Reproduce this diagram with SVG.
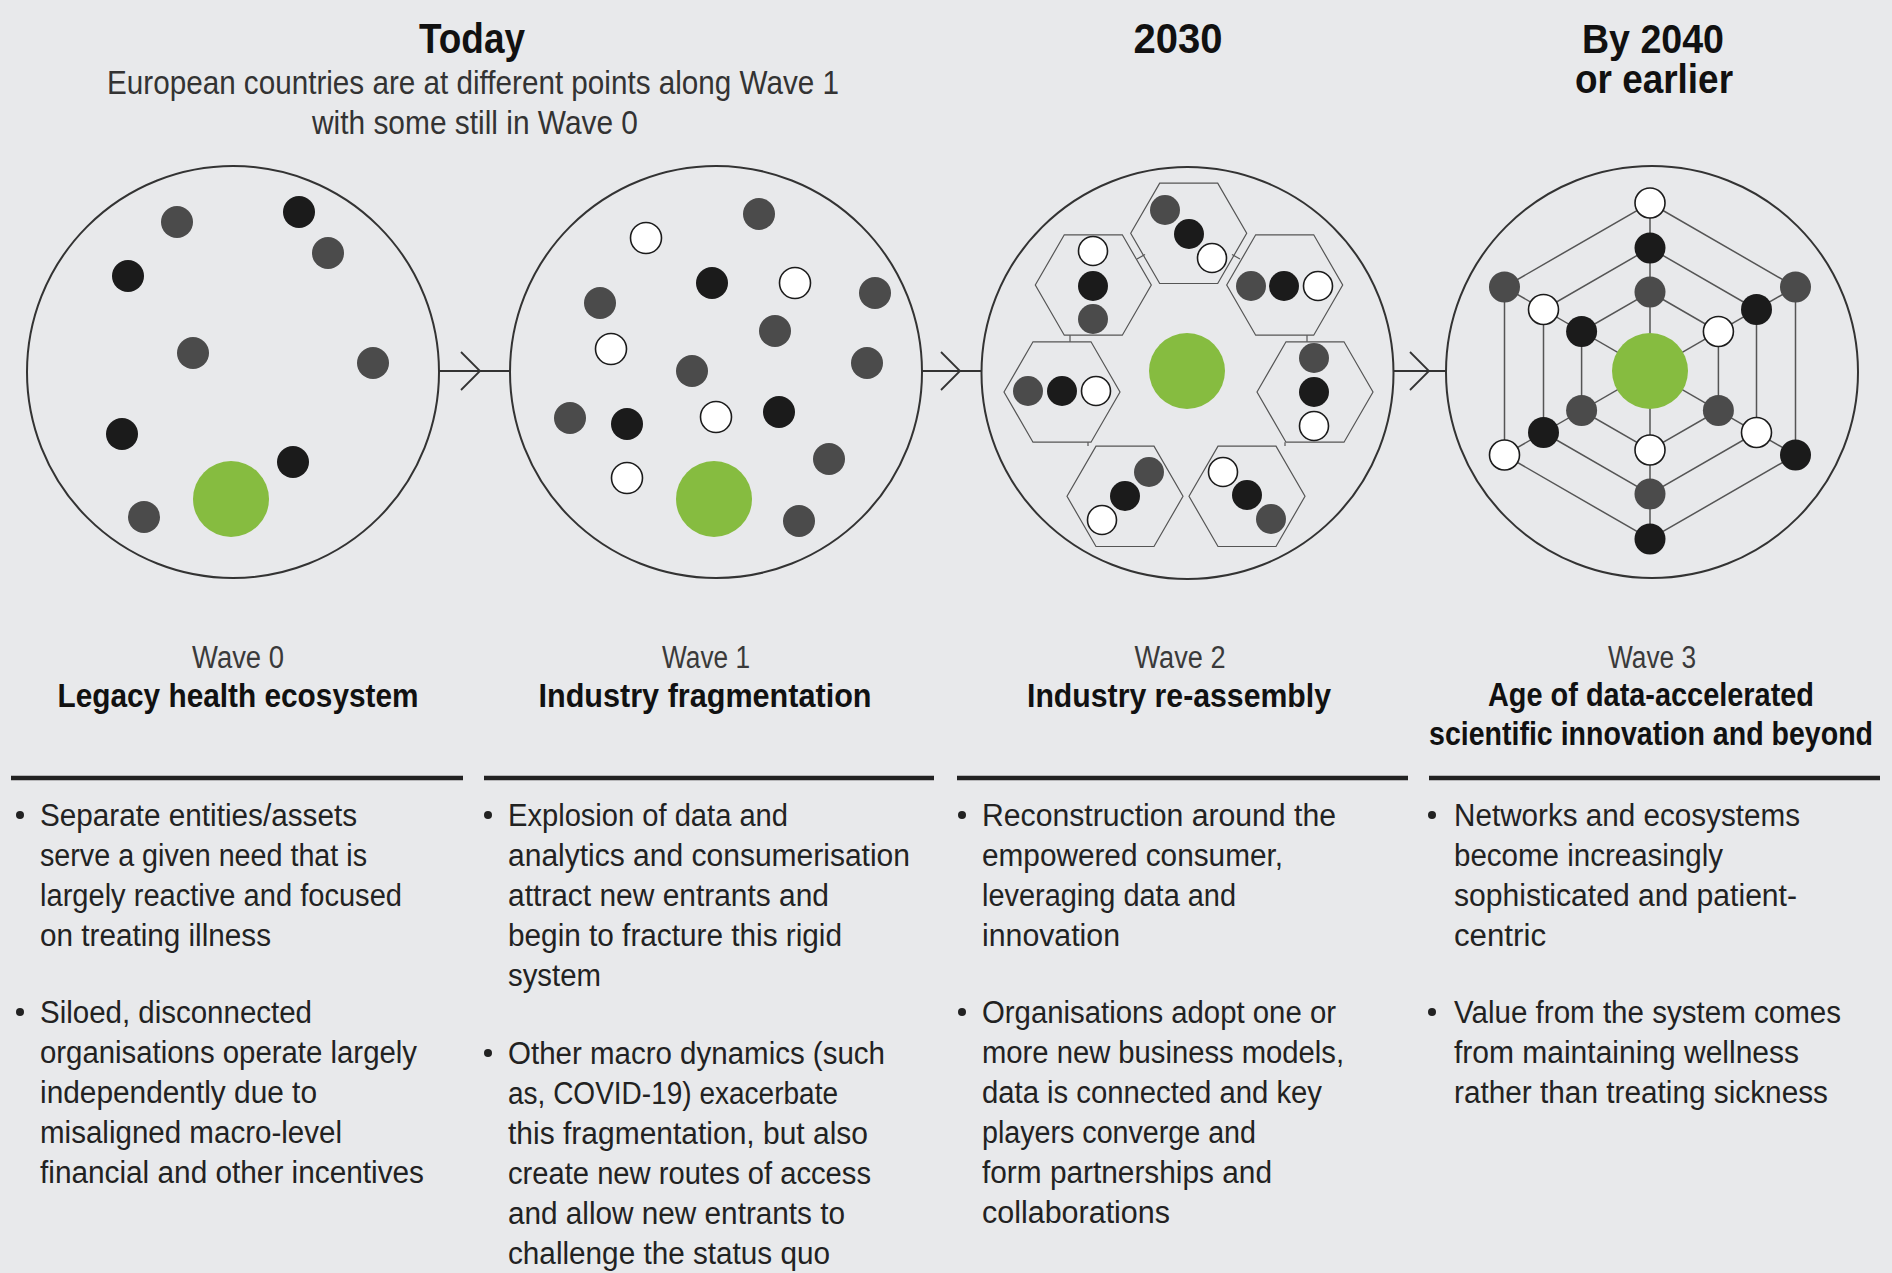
<svg xmlns="http://www.w3.org/2000/svg" width="1892" height="1273" viewBox="0 0 1892 1273">
<defs>
<style>
text{font-family:"Liberation Sans",Arial,sans-serif}
.title{font-weight:700;font-size:43px;fill:#111}
.title2{font-weight:700;font-size:40px;fill:#111}
.sub{font-size:33px;fill:#333}
.wave{font-size:31px;fill:#3a3a3a}
.head{font-weight:700;font-size:34px;fill:#111}
.body{font-size:31px;fill:#222}
.frame{fill:none;stroke:#333;stroke-width:2}
.g{fill:#4b4b4b}
.k{fill:#1b1b1b}
.w{fill:#fff;stroke:#1b1b1b;stroke-width:1.6}
.green{fill:#86bc40}
.hex{fill:none;stroke:#555;stroke-width:1.2}
.web{fill:none;stroke:#555;stroke-width:1.5}
.conn{fill:none;stroke:#333;stroke-width:1.8}
.rule{stroke:#222;stroke-width:4.5}
.bul{fill:#222}
</style>
</defs>
<rect width="1892" height="1273" fill="#e8e9eb"/>

<g id="headers">
<text class="title" x="472" y="53" text-anchor="middle" textLength="106" lengthAdjust="spacingAndGlyphs">Today</text>
<text class="sub" x="473" y="94" text-anchor="middle" textLength="732" lengthAdjust="spacingAndGlyphs">European countries are at different points along Wave 1</text>
<text class="sub" x="475" y="134" text-anchor="middle" textLength="326" lengthAdjust="spacingAndGlyphs">with some still in Wave 0</text>
<text class="title" x="1178" y="53" text-anchor="middle" textLength="89" lengthAdjust="spacingAndGlyphs">2030</text>
<text class="title2" x="1653" y="53" text-anchor="middle" textLength="142" lengthAdjust="spacingAndGlyphs">By 2040</text>
<text class="title2" x="1654" y="93" text-anchor="middle" textLength="158" lengthAdjust="spacingAndGlyphs">or earlier</text>
</g>

<g id="connectors">
<line class="conn" x1="439" y1="371" x2="510" y2="371"/>
<polyline class="conn" points="461,352 480,371 461,390"/>
<line class="conn" x1="922" y1="371" x2="982" y2="371"/>
<polyline class="conn" points="941,352 960,371 941,390"/>
<line class="conn" x1="1393" y1="371" x2="1447" y2="371"/>
<polyline class="conn" points="1410,352 1429,371 1410,390"/>
</g>

<g id="wave0">
<circle class="frame" cx="233" cy="372" r="206"/>
<circle class="g" cx="177" cy="222" r="16"/>
<circle class="g" cx="328" cy="253" r="16"/>
<circle class="g" cx="193" cy="353" r="16"/>
<circle class="g" cx="373" cy="363" r="16"/>
<circle class="g" cx="144" cy="517" r="16"/>
<circle class="k" cx="299" cy="212" r="16"/>
<circle class="k" cx="128" cy="276" r="16"/>
<circle class="k" cx="122" cy="434" r="16"/>
<circle class="k" cx="293" cy="462" r="16"/>
<circle class="green" cx="231" cy="499" r="38"/>
</g>

<g id="wave1">
<circle class="frame" cx="716" cy="372" r="206"/>
<circle class="g" cx="759" cy="214" r="16"/>
<circle class="g" cx="875" cy="293" r="16"/>
<circle class="g" cx="600" cy="303" r="16"/>
<circle class="g" cx="775" cy="331" r="16"/>
<circle class="g" cx="692" cy="371" r="16"/>
<circle class="g" cx="867" cy="363" r="16"/>
<circle class="g" cx="570" cy="418" r="16"/>
<circle class="g" cx="829" cy="459" r="16"/>
<circle class="g" cx="799" cy="521" r="16"/>
<circle class="k" cx="712" cy="283" r="16"/>
<circle class="k" cx="627" cy="424" r="16"/>
<circle class="k" cx="779" cy="412" r="16"/>
<circle class="w" cx="646" cy="238" r="15.5"/>
<circle class="w" cx="795" cy="283" r="15.5"/>
<circle class="w" cx="611" cy="349" r="15.5"/>
<circle class="w" cx="716" cy="417" r="15.5"/>
<circle class="w" cx="627" cy="478" r="15.5"/>
<circle class="green" cx="714" cy="499" r="38"/>
</g>

<g id="wave2">
<circle class="frame" cx="1187.5" cy="373" r="206"/>
<polygon class="hex" points="1130.7,233.3 1159.7,183.1 1217.7,183.1 1246.7,233.3 1217.7,283.5 1159.7,283.5"/>
<polygon class="hex" points="1035.3,285 1064.3,234.8 1122.3,234.8 1151.3,285 1122.3,335.2 1064.3,335.2"/>
<polygon class="hex" points="1226.7,285 1255.7,234.8 1313.7,234.8 1342.7,285 1313.7,335.2 1255.7,335.2"/>
<polygon class="hex" points="1004,392 1033,341.8 1091,341.8 1120,392 1091,442.2 1033,442.2"/>
<polygon class="hex" points="1257,392 1286,341.8 1344,341.8 1373,392 1344,442.2 1286,442.2"/>
<polygon class="hex" points="1067,496.3 1096,446.1 1154,446.1 1183,496.3 1154,546.5 1096,546.5"/>
<polygon class="hex" points="1189,496.3 1218,446.1 1276,446.1 1305,496.3 1276,546.5 1218,546.5"/>
<line class="hex" x1="1070" y1="335.2" x2="1070" y2="341.8"/>
<line class="hex" x1="1307" y1="335.2" x2="1307" y2="341.8"/>
<line class="hex" x1="1088" y1="442.2" x2="1088" y2="446.1"/>
<line class="hex" x1="1285" y1="442.2" x2="1285" y2="446.1"/>
<line class="hex" x1="1137" y1="259" x2="1145" y2="254.5"/>
<line class="hex" x1="1232" y1="254.5" x2="1240" y2="259"/>
<circle class="green" cx="1187" cy="371" r="38"/>
<circle class="g" cx="1165" cy="210" r="15"/>
<circle class="k" cx="1189" cy="234" r="15"/>
<circle class="w" cx="1212" cy="258" r="14.5"/>
<circle class="w" cx="1093" cy="251" r="14.5"/>
<circle class="k" cx="1093" cy="286" r="15"/>
<circle class="g" cx="1093" cy="319" r="15"/>
<circle class="g" cx="1251" cy="286" r="15"/>
<circle class="k" cx="1284" cy="286" r="15"/>
<circle class="w" cx="1318" cy="286" r="14.5"/>
<circle class="g" cx="1028" cy="391" r="15"/>
<circle class="k" cx="1062" cy="391" r="15"/>
<circle class="w" cx="1096" cy="391" r="14.5"/>
<circle class="g" cx="1314" cy="358" r="15"/>
<circle class="k" cx="1314" cy="392" r="15"/>
<circle class="w" cx="1314" cy="426" r="14.5"/>
<circle class="g" cx="1149" cy="472" r="15"/>
<circle class="k" cx="1125" cy="496" r="15"/>
<circle class="w" cx="1102" cy="520" r="14.5"/>
<circle class="w" cx="1223" cy="472" r="14.5"/>
<circle class="k" cx="1247" cy="495" r="15"/>
<circle class="g" cx="1271" cy="519" r="15"/>
</g>

<g id="wave3">
<circle class="frame" cx="1652" cy="372" r="206"/>
<polygon class="web" points="1650,203 1795.5,287 1795.5,455 1650,539 1504.5,455 1504.5,287"/>
<polygon class="web" points="1650,248 1756.5,309.5 1756.5,432.5 1650,494 1543.5,432.5 1543.5,309.5"/>
<polygon class="web" points="1650,292 1718.4,331.5 1718.4,410.5 1650,450 1581.6,410.5 1581.6,331.5"/>
<line class="web" x1="1650" y1="203" x2="1650" y2="539"/>
<line class="web" x1="1504.5" y1="287" x2="1795.5" y2="455"/>
<line class="web" x1="1504.5" y1="455" x2="1795.5" y2="287"/>
<circle class="green" cx="1650" cy="371" r="38"/>
<circle class="w" cx="1650" cy="203" r="15"/>
<circle class="g" cx="1795.5" cy="287" r="15.5"/>
<circle class="k" cx="1795.5" cy="455" r="15.5"/>
<circle class="k" cx="1650" cy="539" r="15.5"/>
<circle class="w" cx="1504.5" cy="455" r="15"/>
<circle class="g" cx="1504.5" cy="287" r="15.5"/>
<circle class="k" cx="1650" cy="248" r="15.5"/>
<circle class="k" cx="1756.5" cy="309.5" r="15.5"/>
<circle class="w" cx="1756.5" cy="432.5" r="15"/>
<circle class="g" cx="1650" cy="494" r="15.5"/>
<circle class="k" cx="1543.5" cy="432.5" r="15.5"/>
<circle class="w" cx="1543.5" cy="309.5" r="15"/>
<circle class="g" cx="1650" cy="292" r="15.5"/>
<circle class="w" cx="1718.4" cy="331.5" r="15"/>
<circle class="g" cx="1718.4" cy="410.5" r="15.5"/>
<circle class="w" cx="1650" cy="450" r="15"/>
<circle class="g" cx="1581.6" cy="410.5" r="15.5"/>
<circle class="k" cx="1581.6" cy="331.5" r="15.5"/>
</g>

<g id="col0">
<text class="wave" x="238" y="668" text-anchor="middle" textLength="92" lengthAdjust="spacingAndGlyphs">Wave 0</text>
<text class="head" x="238" y="707" text-anchor="middle" textLength="361" lengthAdjust="spacingAndGlyphs">Legacy health ecosystem</text>
<line class="rule" x1="11" y1="778" x2="463" y2="778"/>
<circle class="bul" cx="20" cy="815" r="4"/>
<text class="body" x="40" y="826" textLength="317" lengthAdjust="spacingAndGlyphs">Separate entities/assets</text>
<text class="body" x="40" y="866" textLength="327" lengthAdjust="spacingAndGlyphs">serve a given need that is</text>
<text class="body" x="40" y="906" textLength="362" lengthAdjust="spacingAndGlyphs">largely reactive and focused</text>
<text class="body" x="40" y="946" textLength="231" lengthAdjust="spacingAndGlyphs">on treating illness</text>
<circle class="bul" cx="20" cy="1012" r="4"/>
<text class="body" x="40" y="1023" textLength="272" lengthAdjust="spacingAndGlyphs">Siloed, disconnected</text>
<text class="body" x="40" y="1063" textLength="377" lengthAdjust="spacingAndGlyphs">organisations operate largely</text>
<text class="body" x="40" y="1103" textLength="277" lengthAdjust="spacingAndGlyphs">independently due to</text>
<text class="body" x="40" y="1143" textLength="302" lengthAdjust="spacingAndGlyphs">misaligned macro-level</text>
<text class="body" x="40" y="1183" textLength="384" lengthAdjust="spacingAndGlyphs">financial and other incentives</text>
</g>

<g id="col1">
<text class="wave" x="706" y="668" text-anchor="middle" textLength="88" lengthAdjust="spacingAndGlyphs">Wave 1</text>
<text class="head" x="705" y="707" text-anchor="middle" textLength="333" lengthAdjust="spacingAndGlyphs">Industry fragmentation</text>
<line class="rule" x1="484" y1="778" x2="934" y2="778"/>
<circle class="bul" cx="488" cy="815" r="4"/>
<text class="body" x="508" y="826" textLength="280" lengthAdjust="spacingAndGlyphs">Explosion of data and</text>
<text class="body" x="508" y="866" textLength="402" lengthAdjust="spacingAndGlyphs">analytics and consumerisation</text>
<text class="body" x="508" y="906" textLength="321" lengthAdjust="spacingAndGlyphs">attract new entrants and</text>
<text class="body" x="508" y="946" textLength="334" lengthAdjust="spacingAndGlyphs">begin to fracture this rigid</text>
<text class="body" x="508" y="986" textLength="93" lengthAdjust="spacingAndGlyphs">system</text>
<circle class="bul" cx="488" cy="1053" r="4"/>
<text class="body" x="508" y="1064" textLength="377" lengthAdjust="spacingAndGlyphs">Other macro dynamics (such</text>
<text class="body" x="508" y="1104" textLength="330" lengthAdjust="spacingAndGlyphs">as, COVID-19) exacerbate</text>
<text class="body" x="508" y="1144" textLength="360" lengthAdjust="spacingAndGlyphs">this fragmentation, but also</text>
<text class="body" x="508" y="1184" textLength="363" lengthAdjust="spacingAndGlyphs">create new routes of access</text>
<text class="body" x="508" y="1224" textLength="337" lengthAdjust="spacingAndGlyphs">and allow new entrants to</text>
<text class="body" x="508" y="1264" textLength="322" lengthAdjust="spacingAndGlyphs">challenge the status quo</text>
</g>

<g id="col2">
<text class="wave" x="1180" y="668" text-anchor="middle" textLength="91" lengthAdjust="spacingAndGlyphs">Wave 2</text>
<text class="head" x="1179" y="707" text-anchor="middle" textLength="304" lengthAdjust="spacingAndGlyphs">Industry re-assembly</text>
<line class="rule" x1="957" y1="778" x2="1408" y2="778"/>
<circle class="bul" cx="962" cy="815" r="4"/>
<text class="body" x="982" y="826" textLength="354" lengthAdjust="spacingAndGlyphs">Reconstruction around the</text>
<text class="body" x="982" y="866" textLength="301" lengthAdjust="spacingAndGlyphs">empowered consumer,</text>
<text class="body" x="982" y="906" textLength="254" lengthAdjust="spacingAndGlyphs">leveraging data and</text>
<text class="body" x="982" y="946" textLength="138" lengthAdjust="spacingAndGlyphs">innovation</text>
<circle class="bul" cx="962" cy="1012" r="4"/>
<text class="body" x="982" y="1023" textLength="354" lengthAdjust="spacingAndGlyphs">Organisations adopt one or</text>
<text class="body" x="982" y="1063" textLength="362" lengthAdjust="spacingAndGlyphs">more new business models,</text>
<text class="body" x="982" y="1103" textLength="340" lengthAdjust="spacingAndGlyphs">data is connected and key</text>
<text class="body" x="982" y="1143" textLength="274" lengthAdjust="spacingAndGlyphs">players converge and</text>
<text class="body" x="982" y="1183" textLength="290" lengthAdjust="spacingAndGlyphs">form partnerships and</text>
<text class="body" x="982" y="1223" textLength="188" lengthAdjust="spacingAndGlyphs">collaborations</text>
</g>

<g id="col3">
<text class="wave" x="1652" y="668" text-anchor="middle" textLength="88" lengthAdjust="spacingAndGlyphs">Wave 3</text>
<text class="head" x="1651" y="706" text-anchor="middle" textLength="326" lengthAdjust="spacingAndGlyphs">Age of data-accelerated</text>
<text class="head" transform="translate(1651,745) scale(0.84,1)" x="0" y="0" text-anchor="middle">scientific innovation and beyond</text>
<line class="rule" x1="1429" y1="778" x2="1880" y2="778"/>
<circle class="bul" cx="1432" cy="815" r="4"/>
<text class="body" x="1454" y="826" textLength="346" lengthAdjust="spacingAndGlyphs">Networks and ecosystems</text>
<text class="body" x="1454" y="866" textLength="269" lengthAdjust="spacingAndGlyphs">become increasingly</text>
<text class="body" x="1454" y="906" textLength="343" lengthAdjust="spacingAndGlyphs">sophisticated and patient-</text>
<text class="body" x="1454" y="946" textLength="92" lengthAdjust="spacingAndGlyphs">centric</text>
<circle class="bul" cx="1432" cy="1012" r="4"/>
<text class="body" x="1454" y="1023" textLength="387" lengthAdjust="spacingAndGlyphs">Value from the system comes</text>
<text class="body" x="1454" y="1063" textLength="345" lengthAdjust="spacingAndGlyphs">from maintaining wellness</text>
<text class="body" x="1454" y="1103" textLength="374" lengthAdjust="spacingAndGlyphs">rather than treating sickness</text>
</g>
</svg>
